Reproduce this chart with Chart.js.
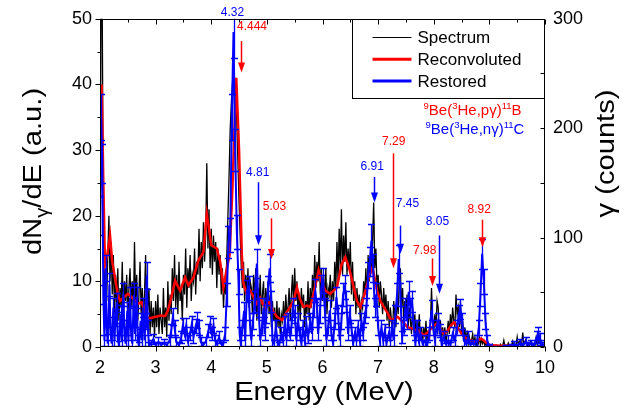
<!DOCTYPE html>
<html>
<head>
<meta charset="utf-8">
<script src="https://cdn.jsdelivr.net/npm/chart.js@4.4.0/dist/chart.umd.min.js"></script>
<style>
    html, body { margin: 0; padding: 0; background: #fff; }
</style>
</head>
<body>
<canvas id="spectrum-chart" width="628" height="411"></canvas>
<script>
// Axis ticks
const xTicks = [2, 3, 4, 5, 6, 7, 8, 9, 10];
const yTicks = [0, 10, 20, 30, 40, 50];
const countTicks = [0, 100, 200, 300];

// Measured spectrum, one value per channel (0.02 MeV channels from 2 MeV)
const spectrumStart = 2.0;
const spectrumStep = 0.02;
const spectrumY = [
    10, 55, 52, 18, 9, 12, 7, 14, 20, 10,
    16, 8, 14, 5, 11, 6, 12, 4, 9, 6,
    13, 5, 10, 7, 11, 4, 9, 12, 6, 10,
    5, 16, 7, 11, 4, 8, 13, 5, 9, 3,
    8, 14, 4, 6, 9, 2, 7, 3, 6, 1.5,
    7, 3, 8, 2, 6, 4, 2, 9, 3, 6,
    1.5, 10, 4, 8, 5, 12, 7, 14, 6, 11,
    5, 13, 7, 9, 4, 11, 8, 15, 6, 12,
    9, 14, 7, 11, 10, 15, 8, 13, 11, 18,
    10, 16, 12, 19, 13, 17, 28, 15, 21, 12,
    18, 11, 17, 13, 16, 9, 15, 11, 14, 8,
    12, 6, 10, 8, 14, 20, 26, 33, 37, 40,
    42, 38, 41, 34, 28, 22, 17, 12, 9, 13,
    7, 11, 8, 12, 6, 10, 9, 5, 11, 7,
    12, 4, 9, 6, 11, 5, 8, 10, 4, 9,
    6, 10, 5, 8, 3, 7, 4, 6, 2, 7,
    3, 6, 2, 5, 4, 7, 3, 8, 5, 6,
    9, 4, 8, 11, 6, 12, 7, 10, 5, 8,
    4, 9, 6, 8, 3, 7, 5, 10, 4, 9,
    6, 11, 8, 14, 9, 13, 10, 16, 8, 12,
    7, 11, 6, 12, 5, 9, 8, 11, 6, 10,
    7, 13, 9, 16, 10, 18, 12, 21, 11, 17,
    13, 19, 11, 15, 12, 16, 8, 13, 7, 10,
    5, 9, 6, 8, 4, 7, 6, 10, 8, 12,
    7, 14, 10, 13, 12, 16, 22, 12, 15, 9,
    11, 6, 10, 8, 5, 9, 6, 8, 4, 7,
    3, 6, 4, 2, 7, 5, 3, 8, 5, 10,
    12, 6, 9, 4, 7, 5, 8, 3, 6, 4,
    2, 6, 3, 5, 1.5, 4, 2, 5, 1, 3,
    0.5, 3, 1.5, 4, 0.5, 2.5, 1, 3.5, 9, 4,
    2, 5, 3, 7, 6, 2, 4, 1, 3, 1.5,
    3, 0.5, 2, 4, 2, 5, 3, 6, 4, 3,
    8, 5, 6, 3, 7, 2, 4, 1.5, 3, 0.5,
    2.5, 0.5, 1.5, 0.3, 1, 2, 0.5, 1.5, 0.2, 1,
    0.5, 1.5, 0.3, 1.2, 0.5, 1, 0.2, 0.6, 0, 0.3,
    0, 0.2, 0, 0.4, 0, 0.1, 0.3, 0, 0.2, 0,
    0.4, 0, 0.2, 1.0, 0.1, 0.3, 0, 0.6, 0.2, 0.1,
    0.3, 0.9, 0.1, 0.4, 0.2, 1.5, 0.3, 0.8, 0.1, 0.5,
    2.2, 0.4, 0.8, 1.2, 0.2, 0.5, 0.1, 0.8, 0.3, 0.6,
    0.5, 0.2, 1.4, 0.3, 0.6, 1.0, 0.8, 0.2, 0.4, 0.1,
    0.5
];

// Reconvoluted curve
const reconE = [
    2.00, 2.03, 2.06, 2.09, 2.13, 2.18, 2.22, 2.27, 2.32, 2.36,
    2.42, 2.50, 2.58, 2.64, 2.68, 2.75, 2.80, 2.85, 2.90, 3.00,
    3.10, 3.17, 3.22, 3.28, 3.35, 3.44, 3.53, 3.59, 3.68, 3.77,
    3.86, 3.92, 3.96, 4.00, 4.10, 4.16, 4.22, 4.28, 4.33, 4.38,
    4.45, 4.50, 4.55, 4.58, 4.63, 4.70, 4.76, 4.82, 4.88, 4.93,
    4.97, 5.03, 5.10, 5.18, 5.27, 5.35, 5.42, 5.48, 5.54, 5.60,
    5.66, 5.72, 5.78, 5.85, 5.93, 5.98, 6.05, 6.14, 6.20, 6.26,
    6.34, 6.41, 6.48, 6.56, 6.62, 6.68, 6.74, 6.80, 6.90, 6.98,
    7.04, 7.10, 7.17, 7.23, 7.29, 7.35, 7.42, 7.48, 7.53, 7.62,
    7.71, 7.78, 7.83, 7.90, 7.95, 8.00, 8.07, 8.12, 8.18, 8.25,
    8.31, 8.37, 8.43, 8.50, 8.55, 8.63, 8.73, 8.80, 8.85, 8.90,
    8.97, 9.05, 9.20, 9.35, 9.48
];
const reconY = [
    28, 40, 25, 12.5, 14, 17, 13, 10.5, 8, 7,
    7.5, 8.1, 7.5, 7, 6.6, 6.8, 5.5, 4.5, 4.4, 4.6,
    4.8, 4.7, 5.5, 7.5, 10.1, 8.6, 10.6, 9.4, 10.6, 13.2,
    14.5, 20.3, 18, 15.5, 15, 13, 9.1, 12, 14, 24,
    41, 30, 14, 9.7, 8.2, 8.6, 7.6, 6.6, 7.5, 6.5,
    6.1, 7.0, 5.6, 4.6, 4.1, 5.2, 6.1, 7, 9.1, 7.2,
    6.1, 6.3, 6.1, 8.5, 11.7, 10, 8.6, 8.1, 8.6, 9.1,
    12.5, 13.7, 12, 9.1, 7, 6.1, 7.5, 9.6, 12.2, 8.6,
    7, 6.1, 5.2, 4.1, 4.3, 4.6, 4.0, 3.5, 3.0, 2.8,
    2.5, 2.1, 1.8, 2.3, 2.8, 3.3, 3.6, 2.8, 2.0, 2.5,
    3.3, 3.8, 3.0, 2.0, 1.5, 1.1, 0.8, 1.0, 1.3, 1.0,
    0.4, 0.25, 0.2, 0.2, 0.25
];

// Restored spectrum with its error bars
const restoredE = [
    2.00, 2.02, 2.04, 2.06, 2.08, 2.10, 2.12, 2.14, 2.17, 2.19,
    2.21, 2.24, 2.26, 2.28, 2.30, 2.32, 2.34, 2.37, 2.39, 2.42,
    2.44, 2.46, 2.49, 2.51, 2.54, 2.56, 2.58, 2.61, 2.63, 2.66,
    2.68, 2.70, 2.73, 2.75, 2.78, 2.80, 2.82, 2.84, 2.86, 2.88,
    2.92, 2.96, 3.00, 3.05, 3.10, 3.15, 3.20, 3.25, 3.28, 3.31,
    3.34, 3.37, 3.42, 3.46, 3.49, 3.52, 3.55, 3.58, 3.62, 3.65,
    3.68, 3.72, 3.75, 3.78, 3.81, 3.85, 3.90, 3.95, 3.98, 4.01,
    4.04, 4.07, 4.10, 4.14, 4.17, 4.21, 4.25, 4.28, 4.31, 4.34,
    4.37, 4.40, 4.43, 4.46, 4.49, 4.51, 4.53, 4.56, 4.59, 4.61,
    4.64, 4.67, 4.70, 4.72, 4.75, 4.78, 4.82, 4.85, 4.88, 4.91,
    4.94, 4.96, 4.99, 5.02, 5.05, 5.08, 5.10, 5.13, 5.16, 5.19,
    5.22, 5.26, 5.29, 5.32, 5.35, 5.38, 5.41, 5.44, 5.47, 5.50,
    5.53, 5.56, 5.59, 5.62, 5.65, 5.68, 5.71, 5.74, 5.78, 5.81,
    5.84, 5.87, 5.90, 5.92, 5.95, 5.98, 6.01, 6.04, 6.07, 6.10,
    6.13, 6.16, 6.19, 6.22, 6.25, 6.28, 6.31, 6.34, 6.37, 6.40,
    6.43, 6.46, 6.49, 6.52, 6.55, 6.58, 6.61, 6.64, 6.67, 6.70,
    6.73, 6.76, 6.79, 6.82, 6.85, 6.88, 6.91, 6.94, 6.97, 7.00,
    7.03, 7.06, 7.09, 7.12, 7.15, 7.19, 7.22, 7.25, 7.28, 7.31,
    7.34, 7.37, 7.40, 7.43, 7.46, 7.49, 7.52, 7.55, 7.58, 7.61,
    7.64, 7.67, 7.70, 7.73, 7.76, 7.80, 7.84, 7.88, 7.92, 7.96,
    7.99, 8.02, 8.05, 8.08, 8.11, 8.14, 8.18, 8.22, 8.26, 8.30,
    8.34, 8.38, 8.42, 8.45, 8.48, 8.51, 8.54, 8.58, 8.62, 8.66,
    8.70, 8.74, 8.78, 8.81, 8.84, 8.87, 8.90, 8.93, 8.96, 9.00,
    9.10, 9.20, 9.30, 9.40, 9.45, 9.50, 9.55, 9.60, 9.65, 9.70,
    9.75, 9.80, 9.85, 9.88, 9.91, 9.95, 10.00
];
const restoredY = [
    20, 35, 28, 8, 1, 12, 3, 0.5, 9.5, 2,
    0.5, 6, 1, 4.5, 6.8, 1, 0.4, 5, 1, 8,
    2, 0.5, 5.5, 1, 7.5, 2, 0.5, 8, 2, 7.6,
    1, 0.3, 4, 1, 6, 1, 4, 10.9, 3, 0.3,
    0.5, 1.2, 0.3, 0.8, 0.3, 0.6, 0.3, 1.0, 2.5, 4.6,
    3, 0.8, 0.3, 1.5, 3.3, 2, 3.3, 1, 2, 3.5,
    1.5, 3.2, 4.1, 3, 0.8, 0.3, 0.8, 2.5, 3.5, 2,
    3.3, 1, 0.5, 1.5, 0.5, 0.3, 2, 8, 16, 17,
    35, 48, 30, 17.5, 10, 2, 0.5, 3, 5.5, 1,
    8.5, 9, 3, 1, 4, 7, 12.7, 6, 1, 3,
    6, 2, 5, 9, 12, 7, 1, 0.5, 3, 1,
    0.3, 2, 1, 3.5, 1, 4, 2, 3, 6, 5,
    1, 4, 2, 0.5, 3, 1, 3.5, 1.5, 4, 2,
    6, 8.6, 6, 2, 5, 9.1, 10.1, 6, 1, 3,
    5.6, 2, 0.5, 4, 7.6, 5, 1, 4, 8, 9.1,
    7, 2, 5, 3, 0.5, 2, 1, 3, 1, 4,
    2, 5, 6, 11, 13, 16.2, 12, 6, 8, 3,
    1, 3, 1, 2.5, 0.5, 2, 1, 3, 1, 5,
    8, 13.4, 8, 1.5, 3, 6, 4, 8.4, 6, 7,
    3, 0.5, 3, 1, 2, 0.5, 1, 0.3, 2, 5.6,
    3, 1, 3, 4, 2.5, 0.5, 1.5, 0.5, 1, 0.3,
    2, 1, 3, 5, 5.8, 4, 1, 0.5, 1.5, 0.3,
    0.5, 0.5, 1, 3, 8, 14.2, 10, 4, 1, 0.1,
    0, 0, 0.05, 0.1, 0.4, 0.1, 0.6, 0.2, 0.8, 0.3,
    0.5, 0.2, 1.5, 2.0, 1.2, 0.3, 0.5
];
const restoredErr = [
    3, 3.5, 3, 1.5, 0.8, 2, 1, 0.5, 1.8, 1,
    0.5, 1.5, 0.8, 1.3, 1.5, 0.8, 0.5, 1.4, 0.8, 1.7,
    1, 0.5, 1.4, 0.8, 1.6, 1, 0.5, 1.7, 1, 1.6,
    0.8, 0.5, 1.2, 0.8, 1.5, 0.8, 1.2, 2, 1.1, 0.5,
    0.5, 0.8, 0.5, 0.7, 0.5, 0.6, 0.5, 0.8, 1, 1.3,
    1.1, 0.7, 0.5, 0.9, 1.1, 1, 1.1, 0.8, 1, 1.2,
    0.9, 1.1, 1.2, 1.1, 0.7, 0.5, 0.7, 1, 1.2, 1,
    1.1, 0.8, 0.5, 0.9, 0.5, 0.5, 1, 1.7, 2.5, 2.6,
    3.5, 4, 3.2, 2.6, 1.9, 1, 0.5, 1.1, 1.4, 0.8,
    1.7, 1.8, 1.1, 0.8, 1.2, 1.6, 2.2, 1.5, 0.8, 1.1,
    1.5, 1, 1.4, 1.8, 2.1, 1.6, 0.8, 0.5, 1.1, 0.8,
    0.5, 1, 0.8, 1.2, 0.8, 1.2, 1, 1.1, 1.5, 1.4,
    0.8, 1.2, 1, 0.5, 1.1, 0.8, 1.2, 0.9, 1.2, 1,
    1.5, 1.7, 1.5, 1, 1.4, 1.8, 1.9, 1.5, 0.8, 1.1,
    1.5, 1, 0.5, 1.2, 1.6, 1.4, 0.8, 1.2, 1.7, 1.8,
    1.6, 1, 1.4, 1.1, 0.5, 1, 0.8, 1.1, 0.8, 1.2,
    1, 1.4, 1.5, 2, 2.2, 2.5, 2.1, 1.5, 1.7, 1.1,
    0.8, 1.1, 0.8, 1, 0.5, 1, 0.8, 1.1, 0.8, 1.4,
    1.7, 2.2, 1.7, 0.9, 1.1, 1.5, 1.2, 1.7, 1.5, 1.6,
    1.1, 0.5, 1.1, 0.8, 1, 0.5, 0.8, 0.5, 1, 1.5,
    1.1, 0.8, 1.1, 1.2, 1, 0.5, 0.9, 0.5, 0.8, 0.5,
    1, 0.8, 1.1, 1.4, 1.5, 1.2, 0.8, 0.5, 0.9, 0.5,
    0.5, 0.5, 0.8, 1.1, 1.7, 2.3, 1.9, 1.2, 0.8, 0.3,
    0.2, 0.2, 0.2, 0.3, 0.5, 0.3, 0.6, 0.4, 0.7, 0.5,
    0.6, 0.4, 0.9, 1, 0.9, 0.5, 0.6
];

// Peak markers (label position and arrow in data units)
const markers = [
    { text: '4.32', color: '#0000ff', lx: 4.38, ly: 50.9 },
    { text: '4.444', color: '#ff0000', lx: 4.733, ly: 48.8, ax: 4.528, from: 46.6, to: 41.8 },
    { text: '4.81', color: '#0000ff', lx: 4.834, ly: 26.5, ax: 4.841, from: 25.1, to: 15.5 },
    { text: '5.03', color: '#ff0000', lx: 5.135, ly: 21.4, ax: 5.081, from: 19.6, to: 13.4 },
    { text: '6.91', color: '#0000ff', lx: 6.895, ly: 27.5, ax: 6.924, from: 25.9, to: 22.0 },
    { text: '7.29', color: '#ff0000', lx: 7.279, ly: 31.3, ax: 7.274, from: 29.5, to: 12.0 },
    { text: '7.45', color: '#0000ff', lx: 7.526, ly: 21.9, ax: 7.387, from: 18.5, to: 14.2 },
    { text: '8.05', color: '#0000ff', lx: 8.067, ly: 19.1, ax: 8.095, from: 17.0, to: 8.1 },
    { text: '7.98', color: '#ff0000', lx: 7.838, ly: 14.7, ax: 7.964, from: 13.5, to: 9.3 },
    { text: '8.92', color: '#ff0000', lx: 8.816, ly: 20.9, ax: 8.865, from: 19.4, to: 15.2 }
];

const FONT = "'Liberation Sans', Arial, Helvetica, sans-serif";
Chart.defaults.font.family = FONT;
Chart.defaults.color = '#000';

function toPoints(xs, ys) {
    return ys.map((y, i) => ({ x: xs[i], y: y }));
}
const spectrumE = spectrumY.map((_, i) => +(spectrumStart + i * spectrumStep).toFixed(2));

// draw a run of text pieces, superscripts raised
function drawRich(ctx, x, y, parts, size, color) {
    ctx.fillStyle = color;
    ctx.textBaseline = 'alphabetic';
    ctx.textAlign = 'left';
    let cx = x;
    parts.forEach(p => {
        const s = p.sup ? size * 0.64 : (p.sub ? size * 0.7 : size);
        ctx.font = s + 'px ' + FONT;
        const dy = p.sup ? -size * 0.4 : (p.sub ? size * 0.28 : 0);
        ctx.fillText(p.t, cx, y + dy);
        cx += ctx.measureText(p.t).width;
    });
    return cx - x;
}
function richWidth(ctx, parts, size) {
    let w = 0;
    parts.forEach(p => {
        const s = p.sup ? size * 0.64 : (p.sub ? size * 0.7 : size);
        ctx.font = s + 'px ' + FONT;
        w += ctx.measureText(p.t).width;
    });
    return w;
}

// error bars for the restored spectrum
const errorBars = {
    id: 'errorBars',
    afterDatasetDraw(chart, args) {
        if (args.index !== 0) return;
        const ctx = chart.ctx;
        const a = chart.chartArea;
        const sy = chart.scales.y;
        const meta = args.meta;
        ctx.save();
        ctx.beginPath();
        ctx.rect(a.left, a.top, a.right - a.left, a.bottom - a.top);
        ctx.clip();
        ctx.strokeStyle = '#0000ff';
        ctx.lineWidth = 1.3;
        ctx.beginPath();
        meta.data.forEach((pt, i) => {
            const e = restoredErr[i];
            const top = sy.getPixelForValue(restoredY[i] + e);
            const bot = sy.getPixelForValue(restoredY[i] - e);
            const x = Math.round(pt.x) + 0.5;
            ctx.moveTo(x, top); ctx.lineTo(x, bot);
            ctx.moveTo(x - 3.5, Math.round(top) + 0.5); ctx.lineTo(x + 3.5, Math.round(top) + 0.5);
            ctx.moveTo(x - 3.5, Math.round(bot) + 0.5); ctx.lineTo(x + 3.5, Math.round(bot) + 0.5);
        });
        ctx.stroke();
        ctx.restore();
    }
};

const decorations = {
    id: 'decorations',
    afterDraw(chart) {
        const ctx = chart.ctx;
        const a = chart.chartArea;
        const sx = chart.scales.x, sy = chart.scales.y, sc = chart.scales.y1;
        const L = Math.round(a.left) + 0.5, R = Math.round(a.right) - 0.5;
        const T = Math.round(a.top) + 0.5, B = Math.round(a.bottom) - 0.5;
        ctx.save();

        // legend box
        const lw = 192, lh = 79;
        ctx.fillStyle = '#fff';
        ctx.fillRect(R - lw, T, lw, lh);
        ctx.strokeStyle = '#000';
        ctx.lineWidth = 1;
        ctx.strokeRect(R - lw, T, lw, lh);
        const rows = [
            { t: 'Spectrum', c: '#000', w: 1.2 },
            { t: 'Reconvoluted', c: '#ff0000', w: 3 },
            { t: 'Restored', c: '#0000ff', w: 3 }
        ];
        rows.forEach((r, i) => {
            const yy = T + 18 + i * 21.7;
            ctx.strokeStyle = r.c;
            ctx.lineWidth = r.w;
            ctx.beginPath();
            ctx.moveTo(R - lw + 20, yy);
            ctx.lineTo(R - lw + 59, yy);
            ctx.stroke();
            ctx.fillStyle = '#000';
            ctx.font = '17px ' + FONT;
            ctx.textAlign = 'left';
            ctx.textBaseline = 'middle';
            ctx.fillText(r.t, R - lw + 65, yy + 1);
        });

        // frame
        ctx.strokeStyle = '#000';
        ctx.lineWidth = 1;
        ctx.strokeRect(L, T, R - L, B - T);

        // tick marks
        ctx.beginPath();
        for (let v = 2; v <= 10.001; v += 0.5) {
            const px = Math.round(sx.getPixelForValue(v)) + 0.5;
            const len = Math.abs(v - Math.round(v)) < 0.01 ? 5 : 3;
            ctx.moveTo(px, B); ctx.lineTo(px, B + len);
            ctx.moveTo(px, T); ctx.lineTo(px, T + len);
        }
        for (let v = 0; v <= 50.001; v += 5) {
            const py = Math.round(sy.getPixelForValue(v)) + 0.5;
            const len = v % 10 === 0 ? 5 : 3;
            ctx.moveTo(L, py); ctx.lineTo(L - len, py);
        }
        for (let v = 0; v <= 300.001; v += 50) {
            const py = Math.round(sc.getPixelForValue(v)) + 0.5;
            ctx.moveTo(R, py); ctx.lineTo(R - 4, py);
        }
        ctx.stroke();

        // peak markers
        markers.forEach(m => {
            ctx.fillStyle = m.color;
            ctx.strokeStyle = m.color;
            ctx.font = '12px ' + FONT;
            ctx.textAlign = 'center';
            ctx.textBaseline = 'middle';
            ctx.fillText(m.text, sx.getPixelForValue(m.lx), sy.getPixelForValue(m.ly));
            if (m.ax !== undefined) {
                const px = Math.round(sx.getPixelForValue(m.ax)) + 0.5;
                const y0 = sy.getPixelForValue(m.from);
                const y1 = sy.getPixelForValue(m.to);
                ctx.lineWidth = 1.5;
                ctx.beginPath();
                ctx.moveTo(px, y0);
                ctx.lineTo(px, y1 - 8);
                ctx.stroke();
                ctx.beginPath();
                ctx.moveTo(px - 3.5, y1 - 10);
                ctx.lineTo(px + 3.5, y1 - 10);
                ctx.lineTo(px, y1);
                ctx.closePath();
                ctx.fill();
            }
        });

        // reaction labels
        const rx = sx.getPixelForValue(7.815);
        drawRich(ctx, rx, sy.getPixelForValue(36.2) + 6, [
            { t: '9', sup: true }, { t: 'Be(' }, { t: '3', sup: true }, { t: 'He,p\u03b3)' }, { t: '11', sup: true }, { t: 'B' }
        ], 15, '#ff0000');
        drawRich(ctx, rx + 2, sy.getPixelForValue(33.3) + 6, [
            { t: '9', sup: true }, { t: 'Be(' }, { t: '3', sup: true }, { t: 'He,n\u03b3)' }, { t: '11', sup: true }, { t: 'C' }
        ], 15, '#0000ff');

        // axis titles
        const stretch = 1.12;
        ctx.fillStyle = '#000';
        ctx.save();
        ctx.translate(324, 400);
        ctx.scale(stretch, 1);
        ctx.font = '26px ' + FONT;
        ctx.textAlign = 'center';
        ctx.textBaseline = 'alphabetic';
        ctx.fillText('Energy (MeV)', 0, 0);
        ctx.restore();

        const yParts = [{ t: 'dN' }, { t: '\u03b3', sub: true }, { t: '/dE (a.u.)' }];
        ctx.save();
        ctx.translate(41, 171.5);
        ctx.rotate(-Math.PI / 2);
        ctx.scale(stretch, 1);
        const yw = richWidth(ctx, yParts, 26);
        drawRich(ctx, -yw / 2, 0, yParts, 26, '#000');
        ctx.restore();

        ctx.save();
        ctx.translate(614, 153.5);
        ctx.rotate(-Math.PI / 2);
        ctx.scale(stretch, 1);
        ctx.font = '26px ' + FONT;
        ctx.fillStyle = '#000';
        ctx.textAlign = 'center';
        ctx.textBaseline = 'alphabetic';
        ctx.fillText('\u03b3 (counts)', 0, 0);
        ctx.restore();

        ctx.restore();
    }
};

const ctx = document.getElementById('spectrum-chart').getContext('2d');
const chart = new Chart(ctx, {
    type: 'line',
    data: {
        datasets: [{
            label: 'Restored',
            data: toPoints(restoredE, restoredY),
            borderColor: '#0000ff',
            backgroundColor: '#0000ff',
            borderWidth: 2,
            pointRadius: 0,
            order: 0
        }, {
            label: 'Reconvoluted',
            data: toPoints(reconE, reconY),
            borderColor: '#ff0000',
            borderWidth: 2.5,
            pointRadius: 0,
            order: 1
        }, {
            label: 'Spectrum',
            data: toPoints(spectrumE, spectrumY),
            borderColor: '#000',
            borderWidth: 1.3,
            pointRadius: 0,
            order: 2
        }]
    },
    options: {
        responsive: false,
        animation: false,
        devicePixelRatio: 1,
        layout: { padding: { top: 18, left: 0, right: 0, bottom: 0 } },
        plugins: {
            legend: { display: false },
            tooltip: { enabled: false }
        },
        scales: {
            x: {
                type: 'linear',
                min: 2,
                max: 10,
                grid: { display: false, drawTicks: false },
                border: { display: false },
                afterBuildTicks: s => { s.ticks = xTicks.map(v => ({ value: v })); },
                afterFit: s => { s.height = 64; },
                ticks: { autoSkip: false, maxRotation: 0, padding: 10, font: { size: 18 } }
            },
            y: {
                position: 'left',
                min: 0,
                max: 50,
                grid: { display: false, drawTicks: false },
                border: { display: false },
                afterBuildTicks: s => { s.ticks = yTicks.map(v => ({ value: v })); },
                afterFit: s => { s.width = 100; },
                ticks: { autoSkip: false, padding: 8, font: { size: 18 } }
            },
            y1: {
                position: 'right',
                min: 0,
                max: 300,
                grid: { display: false, drawTicks: false },
                border: { display: false },
                afterBuildTicks: s => { s.ticks = countTicks.map(v => ({ value: v })); },
                afterFit: s => { s.width = 83; },
                ticks: { autoSkip: false, padding: 8, font: { size: 18 } }
            }
        }
    },
    plugins: [errorBars, decorations]
});
</script>
</body>
</html>
